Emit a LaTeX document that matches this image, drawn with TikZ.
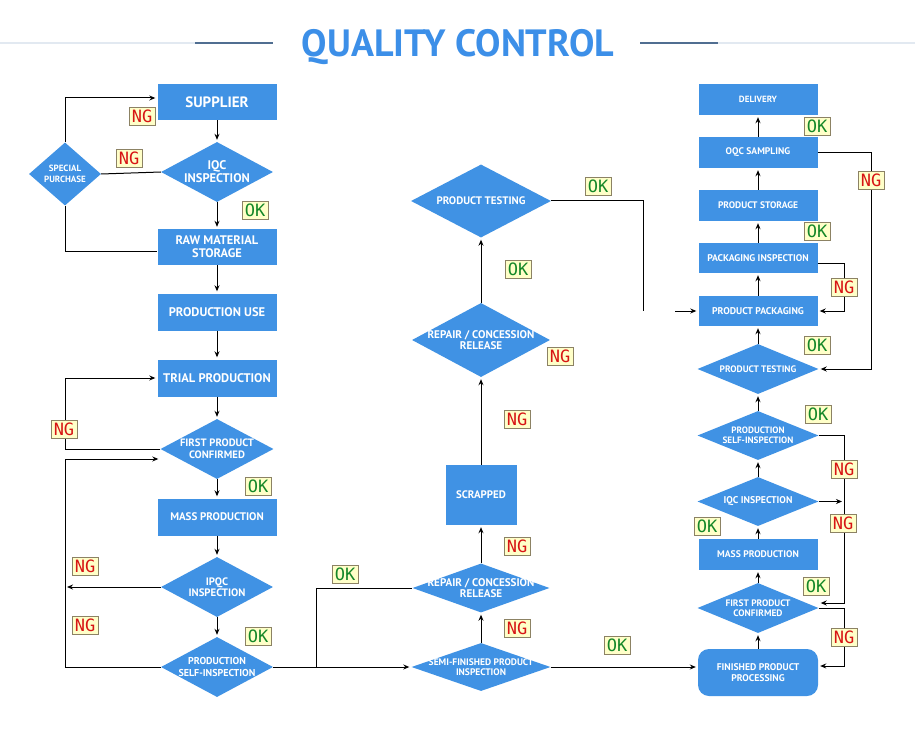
\documentclass[tikz,border=0pt]{standalone}
\usepackage{fontspec}
\setmainfont{PT Sans}
\newfontfamily\lblfont{DejaVu Sans Mono}
\usetikzlibrary{shapes.geometric,arrows.meta}
\definecolor{nodeblue}{RGB}{64,146,228}
\definecolor{titleblue}{RGB}{60,143,232}
\definecolor{ngred}{RGB}{215,20,20}
\definecolor{okgreen}{RGB}{20,135,40}
\definecolor{lblfill}{RGB}{255,255,200}
\definecolor{lbldraw}{RGB}{140,130,100}
\definecolor{deco}{RGB}{80,110,145}
\definecolor{decolight}{RGB}{226,233,241}
\newcommand\myfs[2]{\bfseries\fontsize{#1}{#2}\selectfont}
\begin{document}
\begin{tikzpicture}[x=1pt,y=-1pt,
  box/.style 2 args={rectangle, fill=nodeblue, draw=none, inner sep=0pt, minimum width=#1, minimum height=#2, text=white, align=center},
  dia/.style 2 args={diamond, fill=nodeblue, draw=none, inner sep=0pt, minimum width=#1, minimum height=#2},
  dt/.style={text=white, align=center, inner sep=0pt},
  arr/.style={-{Stealth[length=6pt,width=5pt]}, line width=1pt, shorten >=2pt},
  ln/.style={line width=1pt},
  lbl/.style={fill=lblfill, draw=lbldraw, line width=0.6pt, minimum width=26pt, minimum height=18pt, inner sep=0pt, font=\lblfont\fontsize{17}{17}\selectfont},
  ng/.style={lbl, text=ngred},
  ok/.style={lbl, text=okgreen}]
\fill[white] (0,0) rectangle (915,730);
\useasboundingbox (0,0) rectangle (915,730);
% title
\draw[decolight, line width=2pt] (0,43) -- (195,43);
\draw[decolight, line width=2pt] (718,43) -- (915,43);
\draw[deco, line width=2.5pt] (195,43) -- (273,43);
\draw[deco, line width=2.5pt] (640,43) -- (718,43);
\node[text=titleblue, font=\bfseries\fontsize{38}{38}\selectfont, inner sep=0pt, anchor=base] (title) at (458,57) {QUALITY CONTROL};

% left column
\node[box={119}{36}, font=\myfs{15}{16}] (sup) at (217,102) {SUPPLIER};
\node[dia={112}{60}, label={[dt, font=\myfs{12.5}{13}]center:IQC\\INSPECTION}] (iqc) at (217,172) {};
\node[dia={72}{63}, label={[dt, font=\myfs{9}{11}]center:SPECIAL\\PURCHASE}] (sp) at (65,174) {};
\node[box={119}{36}, font=\myfs{12.4}{13}] (raw) at (217,247) {RAW MATERIAL\\STORAGE};
\node[box={119}{37}, font=\myfs{12.5}{13}] (pu) at (217,312) {PRODUCTION USE};
\node[box={119}{37}, font=\myfs{12.5}{13}] (tp) at (217,378) {TRIAL PRODUCTION};
\node[dia={113}{60}, label={[dt, font=\myfs{10.7}{11.5}]center:FIRST PRODUCT\\CONFIRMED}] (fpc) at (217,449) {};
\node[box={119}{37}, font=\myfs{11}{12}] (mp) at (217,517) {MASS PRODUCTION};
\node[dia={112}{60}, label={[dt, font=\myfs{10.8}{11.5}]center:IPQC\\INSPECTION}] (ipqc) at (217,587) {};
\node[dia={112}{60}, label={[dt, font=\myfs{10}{12}]center:PRODUCTION\\SELF-INSPECTION}] (psi) at (217,667) {};

% middle column
\node[dia={140}{73}, label={[dt, font=\myfs{10.9}{11}]center:PRODUCT TESTING}] (pt1) at (481,201) {};
\node[dia={138}{74}, label={[dt, font=\myfs{11.1}{11.5}]center:REPAIR / CONCESSION\\RELEASE}] (rep1) at (481,340) {};
\node[box={71}{60}, font=\myfs{10.9}{11}] (scr) at (481,495) {SCRAPPED};
\node[dia={137}{49}, label={[dt, font=\myfs{11.1}{11.5}]center:REPAIR / CONCESSION\\RELEASE}] (rep2) at (481,588) {};
\node[dia={139}{48}, label={[dt, font=\myfs{9.5}{10}]center:SEMI-FINISHED PRODUCT\\INSPECTION}] (sfpi) at (481,667) {};

% right column
\node[box={119}{31}, font=\myfs{9}{10}] (dlv) at (758,99.5) {DELIVERY};
\node[box={119}{31}, font=\myfs{9.6}{10}] (oqc) at (758,152.5) {OQC SAMPLING};
\node[box={119}{31}, font=\myfs{9.5}{10}] (ps) at (758,205.5) {PRODUCT STORAGE};
\node[box={119}{30}, font=\myfs{9.7}{10}] (pi) at (758,258) {PACKAGING INSPECTION};
\node[box={119}{30}, font=\myfs{9.8}{10}] (pp) at (758,311) {PRODUCT PACKAGING};
\node[dia={121}{50}, label={[dt, font=\myfs{9.4}{10}]center:PRODUCT TESTING}] (pt2) at (758,369) {};
\node[dia={121}{49}, label={[dt, font=\myfs{9.2}{10}]center:PRODUCTION\\SELF-INSPECTION}] (psi2) at (758,435.5) {};
\node[dia={121}{49}, label={[dt, font=\myfs{9.8}{10}]center:IQC INSPECTION}] (iqc2) at (758,501.5) {};
\node[box={119}{31}, font=\myfs{9.6}{10}] (mp2) at (758,554.5) {MASS PRODUCTION};
\node[dia={121}{50}, label={[dt, font=\myfs{9.4}{10}]center:FIRST PRODUCT\\CONFIRMED}] (fpc2) at (758,608) {};
\node[box={120}{47}, rounded corners=11pt, font=\myfs{9.7}{10.5}] (fpp) at (758,672.5) {FINISHED PRODUCT\\PROCESSING};

% helper coordinates
\coordinate (lx) at (65,0);
\coordinate (jn) at (316,667);
\coordinate (tb) at (643,311);
\coordinate (tc) at (675,311);
\coordinate (rx1) at (871,0);
\coordinate (rx2) at (844,0);

% left connectors
\draw[arr] (sup.south) -- (iqc.north);
\draw[ln] (iqc.west) -- (sp.east);
\draw[arr] (sp.north) |- ([yshift=4pt]sup.west);
\draw[ln] (sp.south) |- ([yshift=-4pt]raw.west);
\draw[arr] (iqc.south) -- (raw.north);
\draw[arr] (raw.south) -- (pu.north);
\draw[arr] (pu.south) -- (tp.north);
\draw[arr] (tp.south) -- (fpc.north);
\draw[arr] (fpc.west) -- (fpc.west -| lx) |- (tp.west);
\draw[arr] (fpc.south) -- (mp.north);
\draw[arr] (mp.south) -- (ipqc.north);
\draw[arr, shorten >=0pt] (ipqc.west) -- ([xshift=2pt]ipqc.west -| lx);
\draw[arr] (ipqc.south) -- (psi.north);
\draw[ln] (psi.west) -- (psi.west -| lx);
\draw[arr] (psi.west -| lx) |- ([yshift=-10pt]fpc.west);
\draw[arr] (psi.east) -- (sfpi.west);
\draw[ln] (jn) |- (rep2.west);

% middle connectors
\draw[arr] (sfpi.north) -- (rep2.south);
\draw[arr] (rep2.north) -- (scr.south);
\draw[arr] (scr.north) -- (rep1.south);
\draw[arr] (rep1.north) -- (pt1.south);
\draw[arr] (sfpi.east) -- (sfpi.east -| fpp.west);
\draw[ln] (pt1.east) -| (tb);
\draw[arr] (tc) -- (pp.west);

% right connectors
\draw[arr] (fpp.north) -- (fpc2.south);
\draw[arr] (fpc2.north) -- (mp2.south);
\draw[arr] (mp2.north) -- (iqc2.south);
\draw[arr] (iqc2.north) -- (psi2.south);
\draw[arr] (psi2.north) -- (pt2.south);
\draw[arr] (pt2.north) -- (pp.south);
\draw[arr] (pp.north) -- (pi.south);
\draw[arr] (pi.north) -- (ps.south);
\draw[arr] (ps.north) -- (oqc.south);
\draw[arr] (oqc.north) -- (dlv.south);
\draw[arr] (oqc.east) -- (oqc.east -| rx1) |- (pt2.east);
\draw[arr] ([yshift=-5pt]pi.east) -- ([yshift=-5pt]pi.east -| rx2) |- (pp.east);
\draw[arr] (psi2.east) -- (psi2.east -| rx2) |- ([yshift=5pt]fpc2.east);
\draw[arr, shorten >=0pt] (iqc2.east) -- ([xshift=-2pt]iqc2.east -| rx2);
\draw[arr] (fpc2.east) -- (fpc2.east -| rx2) |- ([yshift=6.5pt]fpp.east);

% labels
\node[ng] (ng1) at (142,116) {NG};
\node[ng] (ng2) at (129,158) {NG};
\node[ok] (ok1) at (255,210) {OK};
\node[ng] (ng3) at (64,429) {NG};
\node[ok] (ok2) at (258,486) {OK};
\node[ng] (ng4) at (85,566) {NG};
\node[ng] (ng5) at (85,625) {NG};
\node[ok] (ok3) at (258,636) {OK};
\node[ok] (ok4) at (345,574) {OK};
\node[ng] (ng6) at (517,628) {NG};
\node[ng] (ng7) at (517,546) {NG};
\node[ng] (ng8) at (517,419) {NG};
\node[ng] (ng9) at (560,356) {NG};
\node[ok] (ok5) at (518,269) {OK};
\node[ok] (ok6) at (598,186) {OK};
\node[ok] (ok7) at (617,645) {OK};
\node[ok] (ok8) at (817,126) {OK};
\node[ng] (ng10) at (871,180) {NG};
\node[ok] (ok9) at (817,231) {OK};
\node[ng] (ng11) at (844,287) {NG};
\node[ok] (ok10) at (817,345) {OK};
\node[ok] (ok11) at (818,414) {OK};
\node[ng] (ng12) at (844,469) {NG};
\node[ng] (ng13) at (843,523) {NG};
\node[ok] (ok12) at (707,526) {OK};
\node[ok] (ok13) at (816,586) {OK};
\node[ng] (ng14) at (844,637) {NG};
\end{tikzpicture}
\end{document}
